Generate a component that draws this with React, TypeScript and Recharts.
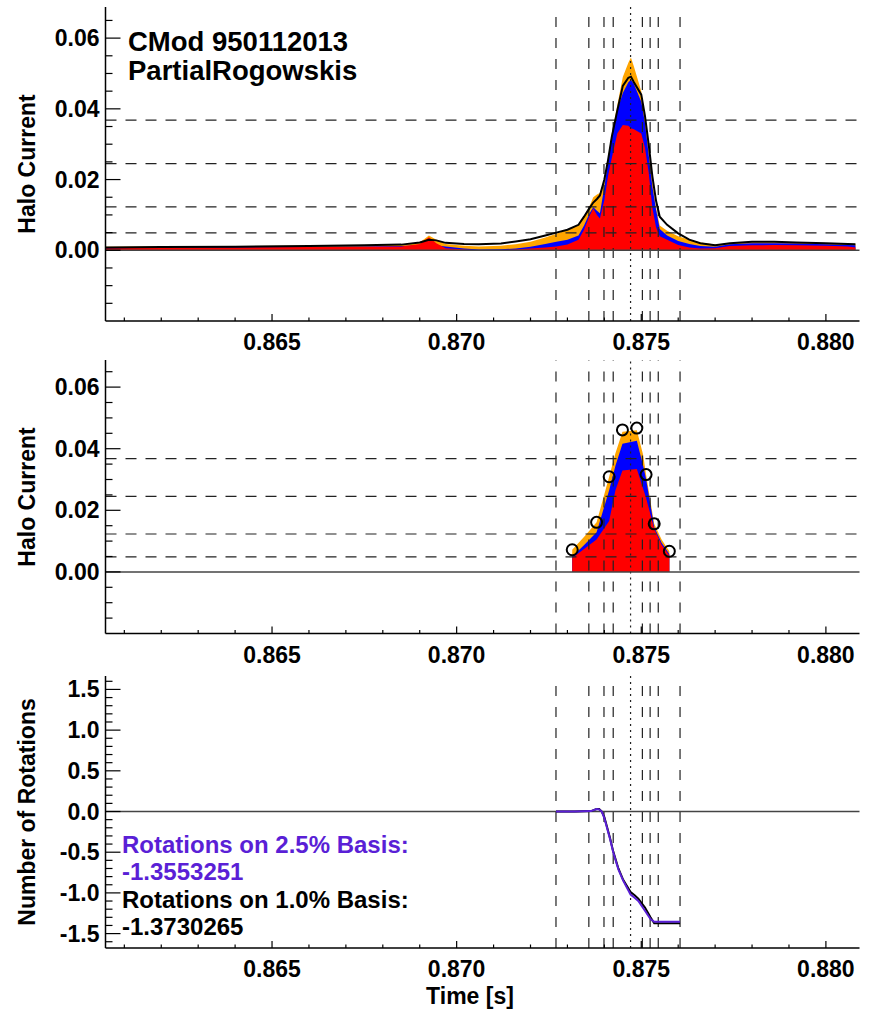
import React from "react";
import { ComposedChart, Area, Line, Scatter, XAxis, YAxis, ReferenceLine } from "recharts";

const FONT = "'Liberation Sans', Arial, Helvetica, sans-serif";
const W = 874;
const H = 1009;
const PLOT_RIGHT = 859.5;
const PLOT_LEFT = 105.5;

// full halo current traces (top panel)
const topTime = [0.8605, 0.862, 0.864, 0.866, 0.8675, 0.8685, 0.869, 0.86925, 0.86945, 0.8697, 0.8702, 0.8706, 0.8712, 0.8716, 0.872, 0.8724, 0.8727, 0.873, 0.8733, 0.87345, 0.8736, 0.8737, 0.8738, 0.87388, 0.874, 0.8741, 0.8742, 0.87435, 0.8745, 0.87465, 0.87472, 0.8748, 0.875, 0.8751, 0.8752, 0.8753, 0.8754, 0.8755, 0.8757, 0.876, 0.8763, 0.8766, 0.877, 0.8774, 0.878, 0.8786, 0.8792, 0.88, 0.8806, 0.8808];
const topOrange = [0.001, 0.0011, 0.0012, 0.0013, 0.0014, 0.0016, 0.0022, 0.0042, 0.003, 0.0018, 0.0013, 0.0011, 0.0013, 0.0017, 0.0024, 0.0036, 0.0047, 0.0058, 0.0072, 0.0095, 0.0125, 0.015, 0.0158, 0.0162, 0.02, 0.026, 0.033, 0.041, 0.049, 0.053, 0.0545, 0.052, 0.045, 0.038, 0.029, 0.02, 0.012, 0.007, 0.0055, 0.004, 0.003, 0.0022, 0.0016, 0.002, 0.0023, 0.0023, 0.0022, 0.002, 0.0019, 0.0018];
const topBlue = [0.0007, 0.0008, 0.0009, 0.001, 0.0011, 0.0012, 0.0014, 0.0016, 0.0014, 0.0011, 0.0005, 0.0002, 0.0003, 0.0005, 0.001, 0.0018, 0.0024, 0.003, 0.0042, 0.007, 0.0105, 0.0122, 0.0112, 0.0105, 0.018, 0.025, 0.032, 0.0395, 0.0445, 0.0475, 0.0482, 0.047, 0.042, 0.036, 0.027, 0.018, 0.0115, 0.006, 0.0042, 0.0026, 0.0018, 0.0012, 0.001, 0.0017, 0.002, 0.002, 0.0019, 0.0017, 0.0015, 0.0014];
const topRed = [0.0006, 0.0007, 0.0008, 0.0009, 0.001, 0.0011, 0.0018, 0.0037, 0.002, 0.0006, 0.0002, 0.0, 0.0001, 0.0002, 0.0005, 0.0008, 0.0011, 0.0016, 0.003, 0.0058, 0.0098, 0.0118, 0.01, 0.009, 0.0142, 0.021, 0.026, 0.033, 0.0354, 0.0352, 0.0345, 0.0342, 0.033, 0.029, 0.022, 0.012, 0.0065, 0.004, 0.003, 0.0015, 0.0008, 0.0005, 0.0006, 0.0012, 0.0014, 0.0015, 0.0014, 0.0013, 0.0011, 0.0008];
const topTotal = [0.0008, 0.0009, 0.001, 0.0012, 0.0014, 0.0016, 0.0022, 0.003, 0.0028, 0.0021, 0.0018, 0.0017, 0.0019, 0.0025, 0.0031, 0.0042, 0.005, 0.0058, 0.0072, 0.0095, 0.012, 0.0135, 0.0145, 0.0155, 0.02, 0.0255, 0.032, 0.0395, 0.0465, 0.0488, 0.0491, 0.0475, 0.044, 0.038, 0.03, 0.021, 0.014, 0.0095, 0.0072, 0.0048, 0.003, 0.002, 0.0014, 0.002, 0.0024, 0.0024, 0.0022, 0.002, 0.0018, 0.0017];

// windowed traces (middle panel)
const midTime = [0.87313, 0.87346, 0.87379, 0.87413, 0.8743, 0.87449, 0.87488, 0.87505, 0.87513, 0.87535, 0.87555, 0.87576];
const midOrange = [0.0072, 0.0115, 0.0161, 0.0309, 0.0385, 0.0455, 0.046, 0.038, 0.0316, 0.0156, 0.0105, 0.0067];
const midBlue = [0.005, 0.0088, 0.0129, 0.0265, 0.0345, 0.0416, 0.0426, 0.0345, 0.0302, 0.0146, 0.0095, 0.0058];
const midRed = [0.0045, 0.0075, 0.0105, 0.0165, 0.0265, 0.0329, 0.0334, 0.027, 0.024, 0.014, 0.0088, 0.0053];
const circleTime = [0.87313, 0.87379, 0.87413, 0.87449, 0.87488, 0.87513, 0.87535, 0.87576];
const circleValue = [0.0072, 0.0161, 0.0309, 0.0461, 0.0467, 0.0316, 0.0156, 0.0067];

// rotations (bottom panel)
const rotTime = [0.87269, 0.8732, 0.87364, 0.87379, 0.87386, 0.87393, 0.874, 0.87406, 0.87415, 0.87424, 0.87438, 0.87451, 0.87471, 0.87482, 0.87492, 0.8751, 0.87525, 0.87535, 0.87546, 0.87575, 0.87605];
const rot25 = [0, 0, 0.005, 0.03, 0.025, 0.0, -0.08, -0.18, -0.33, -0.5, -0.71, -0.85, -1.02, -1.06, -1.1, -1.22, -1.32, -1.355, -1.355, -1.355, -1.355];
const rot10 = [0, 0, 0.005, 0.03, 0.03, 0.0, -0.07, -0.17, -0.32, -0.49, -0.7, -0.84, -0.99, -1.03, -1.07, -1.18, -1.3, -1.373, -1.373, -1.373, -1.373];

const markTimes = [0.87269, 0.87358, 0.87399, 0.87424, 0.87503, 0.87524, 0.87546, 0.87605];
const peakTime = 0.87471;
const levels = [0.0368, 0.0245, 0.0123, 0.0049];

const xTicks = [0.861, 0.862, 0.863, 0.864, 0.865, 0.866, 0.867, 0.868, 0.869, 0.87, 0.871, 0.872, 0.873, 0.874, 0.875, 0.876, 0.877, 0.878, 0.879, 0.88];
const xMajor = [0.865, 0.87, 0.875, 0.88];
const haloTicks = [-0.015, -0.01, -0.005, 0, 0.005, 0.01, 0.015, 0.02, 0.025, 0.03, 0.035, 0.04, 0.045, 0.05, 0.055, 0.06, 0.065];
const haloMajor = [0, 0.02, 0.04, 0.06];
const rotTicks = [-1.6, -1.5, -1.4, -1.3, -1.2, -1.1, -1.0, -0.9, -0.8, -0.7, -0.6, -0.5, -0.4, -0.3, -0.2, -0.1, 0, 0.1, 0.2, 0.3, 0.4, 0.5, 0.6, 0.7, 0.8, 0.9, 1.0, 1.1, 1.2, 1.3, 1.4, 1.5, 1.6];
const rotMajor = [-1.5, -1, -0.5, 0, 0.5, 1, 1.5];

const xDomain = [0.86049, 0.88091];
const haloDomain = [-0.02, 0.0688];
const rotDomain = [-1.677, 1.665];

const isMajor = (v: number, majors: number[]) => majors.some((m) => Math.abs(m - v) < 1e-9);

function xTick(dir: number, labels: boolean) {
  return (props: any) => {
    const { x, y, payload } = props;
    const v = payload.value;
    const major = isMajor(v, xMajor);
    return (
      <g>
        <line x1={x} x2={x} y1={y} y2={y + dir * (major ? 7 : 3.5)} stroke="#000" strokeWidth={1.2} />
        {labels && major && (
          <text x={x} y={y + 29} textAnchor="middle" fontFamily={FONT} fontWeight="bold" fontSize={23} fill="#000">
            {v.toFixed(3)}
          </text>
        )}
      </g>
    );
  };
}

function yTick(dir: number, majors: number[], digits: number, labels: boolean) {
  return (props: any) => {
    const { x, y, payload } = props;
    const v = payload.value;
    const major = isMajor(v, majors);
    return (
      <g>
        <line x1={x} x2={x + dir * (major ? 15 : 7)} y1={y} y2={y} stroke="#000" strokeWidth={1.2} />
        {labels && major && (
          <text x={x - 6} y={y + 8} textAnchor="end" fontFamily={FONT} fontWeight="bold" fontSize={23} fill="#000">
            {v.toFixed(digits)}
          </text>
        )}
      </g>
    );
  };
}

function Frame({ yTicks, yMajor, yDomain, digits }: any) {
  return [
    <XAxis key="xb" xAxisId="b" type="number" dataKey="t" domain={xDomain} allowDataOverflow ticks={xTicks} interval={0}
      height={40} tickSize={0} tickMargin={0} tickLine={false} tick={xTick(-1, true)} axisLine={{ stroke: "#000", strokeWidth: 1.5 }} />,
    <XAxis key="xt" xAxisId="t" orientation="top" type="number" dataKey="t" domain={xDomain} allowDataOverflow ticks={xTicks} interval={0}
      height={0} tickSize={0} tickMargin={0} tickLine={false} tick={xTick(1, false)} axisLine={{ stroke: "#000", strokeWidth: 1.5 }} />,
    <YAxis key="yl" yAxisId="l" type="number" domain={yDomain} allowDataOverflow ticks={yTicks} interval={0}
      width={PLOT_LEFT} tickSize={0} tickMargin={0} tickLine={false} tick={yTick(1, yMajor, digits, true)} axisLine={{ stroke: "#000", strokeWidth: 1.5 }} />,
    <YAxis key="yr" yAxisId="r" orientation="right" type="number" domain={yDomain} allowDataOverflow ticks={yTicks} interval={0}
      width={0} tickSize={0} tickMargin={0} tickLine={false} tick={yTick(-1, yMajor, digits, false)} axisLine={{ stroke: "#000", strokeWidth: 1.5 }} />,
  ];
}

function Marks({ withLevels }: { withLevels: boolean }) {
  return [
    ...(withLevels
      ? levels.map((v) => (
          <ReferenceLine key={"h" + v} xAxisId="b" yAxisId="l" y={v} stroke="#222" strokeWidth={1.2} strokeDasharray="11 9" />
        ))
      : []),
    ...markTimes.map((t) => (
      <ReferenceLine key={"v" + t} xAxisId="b" yAxisId="l" x={t} stroke="#222" strokeWidth={1.2} strokeDasharray="10 11" />
    )),
    <ReferenceLine key="peak" xAxisId="b" yAxisId="l" x={peakTime} stroke="#222" strokeWidth={1.2} strokeDasharray="2 4" />,
    <ReferenceLine key="zero" xAxisId="b" yAxisId="l" y={0} stroke="#444" strokeWidth={1.5} />,
  ];
}

const margin = (top: number, bottom: number) => ({ top, right: W - PLOT_RIGHT, left: 0, bottom: H - bottom - 40 });
const layer: React.CSSProperties = { position: "absolute", left: 0, top: 0 };

export default function App() {
  const topRows = topTime.map((t, i) => ({ t, orange: topOrange[i], blue: topBlue[i], red: topRed[i], total: topTotal[i] }));
  const midRows = midTime.map((t, i) => ({ t, orange: midOrange[i], blue: midBlue[i], red: midRed[i] }));
  const circleRows = circleTime.map((t, i) => ({ t, v: circleValue[i] }));
  const rotRows = rotTime.map((t, i) => ({ t, r25: rot25[i], r10: rot10[i] }));

  const text = { fontFamily: FONT, fontWeight: "bold" as const };

  return (
    <div style={{ position: "absolute", left: 0, top: 0, width: W, height: H, background: "#fff" }}>
      <div style={layer}>
        <ComposedChart width={W} height={H} data={topRows} margin={margin(7, 321)}>
          {Frame({ yTicks: haloTicks, yMajor: haloMajor, yDomain: haloDomain, digits: 2 })}
          <Area xAxisId="b" yAxisId="l" type="linear" dataKey="orange" baseValue={0} fill="#FFA500" fillOpacity={1} stroke="none" isAnimationActive={false} />
          <Area xAxisId="b" yAxisId="l" type="linear" dataKey="blue" baseValue={0} fill="#0000FF" fillOpacity={1} stroke="none" isAnimationActive={false} />
          <Area xAxisId="b" yAxisId="l" type="linear" dataKey="red" baseValue={0} fill="#FF0000" fillOpacity={1} stroke="none" isAnimationActive={false} />
          {Marks({ withLevels: true })}
          <Line xAxisId="b" yAxisId="l" type="linear" dataKey="total" stroke="#000" strokeWidth={2} dot={false} isAnimationActive={false} />
        </ComposedChart>
      </div>
      <div style={layer}>
        <ComposedChart width={W} height={H} data={midRows} margin={margin(360, 633.5)}>
          {Frame({ yTicks: haloTicks, yMajor: haloMajor, yDomain: haloDomain, digits: 2 })}
          <Area xAxisId="b" yAxisId="l" type="linear" dataKey="orange" baseValue={0} fill="#FFA500" fillOpacity={1} stroke="none" isAnimationActive={false} />
          <Area xAxisId="b" yAxisId="l" type="linear" dataKey="blue" baseValue={0} fill="#0000FF" fillOpacity={1} stroke="none" isAnimationActive={false} />
          <Area xAxisId="b" yAxisId="l" type="linear" dataKey="red" baseValue={0} fill="#FF0000" fillOpacity={1} stroke="none" isAnimationActive={false} />
          {Marks({ withLevels: true })}
          <Scatter xAxisId="b" yAxisId="l" data={circleRows} dataKey="v" isAnimationActive={false}
            shape={(p: any) => <circle cx={p.cx} cy={p.cy} r={5.5} fill="none" stroke="#000" strokeWidth={2} />} />
        </ComposedChart>
      </div>
      <div style={layer}>
        <ComposedChart width={W} height={H} data={rotRows} margin={margin(676, 948)}>
          {Frame({ yTicks: rotTicks, yMajor: rotMajor, yDomain: rotDomain, digits: 1 })}
          {Marks({ withLevels: false })}
          <Line xAxisId="b" yAxisId="l" type="linear" dataKey="r10" stroke="#000" strokeWidth={2} dot={false} isAnimationActive={false} />
          <Line xAxisId="b" yAxisId="l" type="linear" dataKey="r25" stroke="#5A1FD6" strokeWidth={2} dot={false} isAnimationActive={false} />
        </ComposedChart>
      </div>
      <svg width={W} height={H} style={{ ...layer, pointerEvents: "none" }}>
        <text x={128} y={51} fontSize={27.5} fill="#000" {...text}>CMod 950112013</text>
        <text x={128} y={80} fontSize={27.5} fill="#000" {...text}>PartialRogowskis</text>
        <text x={35} y={164} fontSize={23} textAnchor="middle" transform="rotate(-90 35 164)" {...text}>Halo Current</text>
        <text x={35} y={497} fontSize={23} textAnchor="middle" transform="rotate(-90 35 497)" {...text}>Halo Current</text>
        <text x={35} y={812} fontSize={23} textAnchor="middle" transform="rotate(-90 35 812)" {...text}>Number of Rotations</text>
        <text x={122} y={853} fontSize={24} fill="#5A1FD6" {...text}>Rotations on 2.5% Basis:</text>
        <text x={122} y={880} fontSize={24} fill="#5A1FD6" {...text}>-1.3553251</text>
        <text x={122} y={908} fontSize={24} fill="#000" {...text}>Rotations on 1.0% Basis:</text>
        <text x={122} y={935} fontSize={24} fill="#000" {...text}>-1.3730265</text>
        <text x={470} y={1004} fontSize={23} textAnchor="middle" fill="#000" {...text}>Time [s]</text>
      </svg>
    </div>
  );
}
